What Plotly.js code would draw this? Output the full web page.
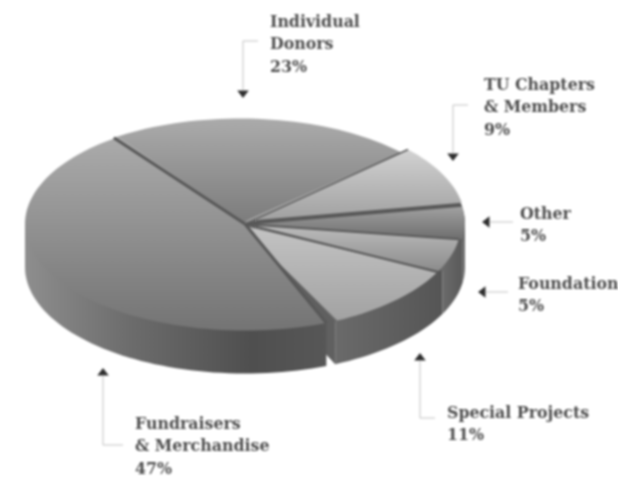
<!DOCTYPE html>
<html><head><meta charset="utf-8">
<script src="https://cdn.plot.ly/plotly-3.0.1.min.js"></script>
<style>html,body{margin:0;padding:0;background:#fff;overflow:hidden}#chart{width:618px;height:480px;filter:blur(0.9px)}</style>
</head><body><div id="chart"></div>
<script>
// ---- data ----
const labels = ["Individual Donors","TU Chapters & Members","Other","Foundation","Special Projects","Fundraisers & Merchandise"];
const values = [23,9,5,5,11,47];
const labelLines = [["Individual","Donors"],["TU Chapters","& Members"],["Other"],["Foundation"],["Special Projects"],["Fundraisers","& Merchandise"]];

// ---- styles / layout geometry ----
const cx=245, cy=224, rx=220, ry=106.5, depth=43, startAngle=125;
const topOffset=[[-5,1],[0,-3],[0,0],[-4,0],[-5,1],[0,0]];
const endTrim=[0,0,0,0,-2,0], startTrim=[0,0,0,0,0,-2.5];
const topColors=[["#ababab","#7b7b7b"],["#d2d2d2","#a0a0a0"],["#a2a2a2","#6e6e6e"],["#bdbdbd","#8c8c8c"],["#c4c4c4","#a2a2a2"],["#ababab","#747474"]];
const wallStops=[null,null,
 [[0,"#6e6e6e"],[1,"#6a6a6a"]],
 [[0,"#6b6b6b"],[1,"#595959"]],
 [[0,"#6a6a6a"],[1,"#555555"]],
 [[0,"#8e8e8e"],[0.35,"#6c6c6c"],[0.75,"#4f4f4f"],[1,"#575757"]]];
const sepWidth=[3,1.5,2,2,2,3];
const labelPos=[[270,21],[484,84],[520,213],[518,283],[447,412],[135,423]];
const lineGap=22.5;
const leaders=[
 {x:[258,243,243],y:[41,41,90],ax:243,ay:93,sym:"triangle-down"},
 {x:[468,453,453],y:[105,105,153],ax:453,ay:156,sym:"triangle-down"},
 {x:[513,490],y:[222,222],ax:487,ay:222,sym:"triangle-left"},
 {x:[508,486],y:[292,292],ax:483,ay:292,sym:"triangle-left"},
 {x:[435,420,420],y:[418,418,361],ax:420,ay:358,sym:"triangle-up"},
 {x:[123,103,103],y:[445,445,376],ax:103,ay:373,sym:"triangle-up"}];

const rad=d=>d*Math.PI/180;
const rimX=t=>cx+rx*Math.cos(rad(t)), rimY=t=>cy-ry*Math.sin(rad(t));
function arc(a,b){const n=Math.max(2,Math.ceil(Math.abs(a-b)/2)),o=[];for(let i=0;i<=n;i++)o.push(a+(b-a)*i/n);return o;}

const total=values.reduce((s,v)=>s+v,0);
const bounds=[startAngle];
values.forEach(v=>bounds.push(bounds[bounds.length-1]-v/total*360));

// dark backing visible through the small gaps between slices
const backArc=arc(36,-180);
const backing={type:"scatter",mode:"none",x:[cx,...backArc.map(rimX),cx],y:[cy,...backArc.map(rimY),cy],fill:"toself",fillcolor:"#585858",hoverinfo:"skip",showlegend:false};

const walls=[],tops=[],seps=[];
values.forEach((v,i)=>{
  const a=bounds[i]+startTrim[i], b=bounds[i+1]-endTrim[i];
  const [ox,oy]=topOffset[i];
  const wa=Math.min(a,0), wb=Math.max(bounds[i+1],-180);
  if(wallStops[i] && wa>wb){
    const ts=arc(wa,wb);
    const xs=[cx,rimX(wa),...ts.map(rimX),rimX(wb),cx];
    const ys=[cy,rimY(wa),...ts.map(t=>rimY(t)+depth),rimY(wb),cy];
    const band=ts.map(rimX);
    walls.push({type:"scatter",mode:"none",x:xs,y:ys,fill:"toself",name:labels[i]+" wall",hoverinfo:"skip",showlegend:false,
      fillgradient:{type:"horizontal",colorscale:wallStops[i],start:Math.min(...band),stop:Math.max(...band)}});
  }
  const ts=arc(a,b);
  const xs=[cx+ox,...ts.map(t=>rimX(t)+ox),cx+ox], ys=[cy+oy,...ts.map(t=>rimY(t)+oy),cy+oy];
  tops.push({type:"scatter",mode:"none",x:xs,y:ys,fill:"toself",name:labels[i],text:v+"%",hoverinfo:"name+text",showlegend:false,
    fillgradient:{type:"vertical",colorscale:[[0,topColors[i][0]],[1,topColors[i][1]]],start:Math.min(...ys),stop:Math.max(...ys)}});
  seps.push({type:"scatter",mode:"lines",x:[cx,rimX(a)+ox],y:[cy,rimY(a)+oy],line:{color:"#585858",width:sepWidth[i]},hoverinfo:"skip",showlegend:false});
});
// cut face of the Special Projects slice
const cut=bounds[5];
const side={type:"scatter",mode:"none",x:[cx,rimX(cut),rimX(cut),cx],y:[cy,rimY(cut),rimY(cut)+depth,cy+depth],fill:"toself",fillcolor:"#606060",hoverinfo:"skip",showlegend:false};

const leaderTraces=[];
leaders.forEach(l=>{
  leaderTraces.push({type:"scatter",mode:"lines",x:l.x,y:l.y,line:{color:"#c2c2c2",width:1},hoverinfo:"skip",showlegend:false});
  leaderTraces.push({type:"scatter",mode:"markers",x:[l.ax],y:[l.ay],marker:{symbol:l.sym,size:10,color:"#2e2e2e"},hoverinfo:"skip",showlegend:false});
});

const annotations=[];
labelLines.forEach((lines,i)=>{
  [...lines,values[i]+"%"].forEach((t,k)=>{
    annotations.push({text:t,xref:"x",yref:"y",x:labelPos[i][0],y:labelPos[i][1]+k*lineGap,xanchor:"left",yanchor:"middle",showarrow:false,xshift:-2,
      font:{family:"'DejaVu Serif',serif",size:15.8,weight:"bold",color:"#4e4e4e"}});
  });
});

const layout={width:618,height:480,margin:{l:0,r:0,t:0,b:0},paper_bgcolor:"#fff",plot_bgcolor:"#fff",showlegend:false,
  xaxis:{range:[0,618],visible:false,fixedrange:true},yaxis:{range:[480,0],visible:false,fixedrange:true},annotations};
Plotly.newPlot("chart",[backing,walls[0],walls[1],side,walls[2],walls[3],...tops,...seps,...leaderTraces],layout,{displayModeBar:false,staticPlot:true});
</script></body></html>
